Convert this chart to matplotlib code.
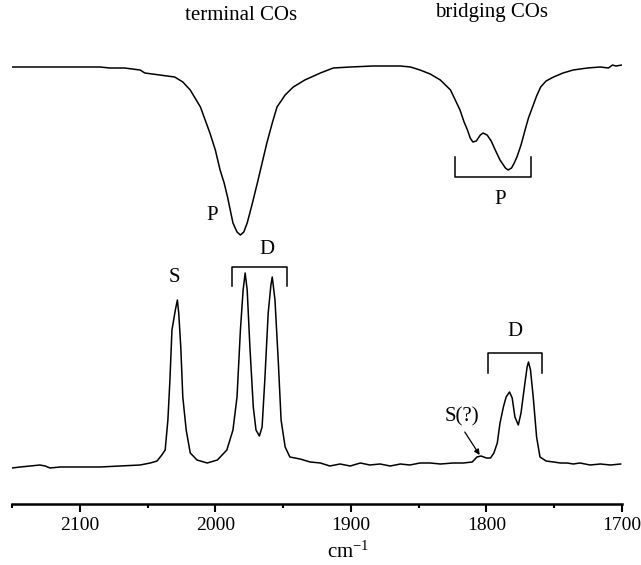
import matplotlib
matplotlib.use('Agg')
import matplotlib.pyplot as plt

plt.rcParams['font.family'] = ['Liberation Serif', 'DejaVu Serif']
plt.rcParams['mathtext.default'] = 'regular'

# upper trace: IR transmittance (%)
IR_WAVENUMBER = [2150, 2129, 2107, 2085, 2078, 2067, 2055.5, 2052, 2041, 2030,
                 2024, 2018.5, 2011, 2004, 2000, 1996.5, 1993.5, 1991, 1987, 1984,
                 1981.5, 1979, 1976.5, 1973, 1969, 1965.5, 1962, 1958, 1954.5, 1948.5,
                 1942.5, 1934, 1922.5, 1913, 1900.5, 1883.5, 1863.5, 1856, 1849, 1841.5,
                 1834, 1826.5, 1823, 1819.5, 1816.5, 1814, 1812, 1810, 1807.5, 1804.5,
                 1802.5, 1799.5, 1796.5, 1793.5, 1790, 1786, 1784, 1781.5, 1779.5, 1777.5,
                 1774.5, 1771.5, 1769, 1766, 1763, 1760, 1756, 1750.5, 1743.5, 1736,
                 1725.5, 1716, 1710, 1707, 1704.5, 1700]
IR_TRANSMITTANCE = [99.0, 99.0, 99.0, 99.0, 98.5, 98.5, 97.5, 96.0, 95.0, 94.0,
                    91.5, 87.5, 79.0, 66.0, 57.5, 47.5, 41.0, 34.0, 21.0, 16.5,
                    15.0, 16.5, 21.0, 30.0, 41.0, 51.0, 61.0, 71.0, 79.0, 85.0,
                    89.0, 92.5, 96.0, 98.5, 99.0, 99.5, 99.5, 99.0, 97.5, 95.5,
                    92.5, 87.5, 82.5, 77.5, 71.5, 67.5, 63.5, 61.5, 62.0, 65.0,
                    66.0, 65.0, 62.0, 57.5, 52.5, 48.5, 47.5, 48.5, 51.0, 54.0,
                    60.0, 67.5, 73.5, 79.0, 84.5, 89.0, 92.0, 94.0, 96.0, 97.5,
                    98.5, 99.0, 98.5, 100.0, 99.5, 100.0]

# lower trace: Raman intensity (counts)
RAMAN_WAVENUMBER = [2150, 2144, 2136.5, 2129.5, 2125.5, 2122, 2114.5, 2100, 2085, 2070.5,
                    2055.5, 2048, 2043, 2039.5, 2037, 2035, 2033.5, 2032, 2029.5, 2028,
                    2027, 2025.5, 2024, 2021.5, 2018.5, 2013.5, 2006, 1998.5, 1991.5, 1987,
                    1984, 1981.5, 1979.5, 1978, 1976.5, 1974.5, 1972, 1970, 1967.5, 1965.5,
                    1963.5, 1961, 1959, 1958, 1956, 1953.5, 1951.5, 1948.5, 1945, 1937.5,
                    1930, 1922.5, 1915.5, 1908, 1900.5, 1893, 1886, 1878.5, 1871, 1863.5,
                    1856.5, 1849, 1841.5, 1834, 1824.5, 1817, 1810.5, 1807, 1804, 1800,
                    1797, 1794.5, 1792, 1790, 1787.5, 1785.5, 1783, 1781, 1779, 1776.5,
                    1774.5, 1772, 1770, 1769, 1767.5, 1765.5, 1763, 1760.5, 1756, 1750.5,
                    1745.5, 1740.5, 1736, 1731, 1723.5, 1716, 1708.5, 1701]
RAMAN_INTENSITY = [20, 30, 40, 50, 40, 20, 30, 30, 30, 40,
                   50, 70, 90, 150, 200, 500, 900, 1400, 1600, 1700,
                   1570, 1230, 730, 400, 170, 100, 70, 100, 200, 400,
                   730, 1400, 1800, 1970, 1800, 1230, 630, 400, 340, 430,
                   900, 1570, 1850, 1930, 1700, 1070, 500, 230, 130, 110,
                   80, 70, 40, 60, 40, 70, 50, 60, 40, 60,
                   50, 70, 70, 60, 70, 70, 80, 130, 140, 120,
                   120, 170, 270, 470, 630, 730, 780, 720, 530, 450,
                   570, 830, 1030, 1080, 1000, 730, 330, 130, 90, 80,
                   70, 70, 60, 70, 50, 60, 50, 60]

X_TICKS = [2100, 2000, 1900, 1800, 1700]
X_MINOR = [2150, 2050, 1950, 1850, 1750]

# vertical placement of the two stacked traces (axis units)
IR_OFFSET = 239
IR_SCALE = 2.0
RAMAN_OFFSET = 34
RAMAN_SCALE = 0.1


def bracket(ax, x0, x1, y, tip):
    # square bracket: horizontal bar at y, legs reaching to tip
    ax.plot([x0, x0, x1, x1], [tip, y, y, tip], color='black', lw=1.1)


def main():
    fig = plt.figure(figsize=(6.41, 5.65), dpi=100)
    ax = fig.add_axes([12 / 641, 61 / 565, 610 / 641, 504 / 565])

    ir_y = [IR_OFFSET + IR_SCALE * t for t in IR_TRANSMITTANCE]
    raman_y = [RAMAN_OFFSET + RAMAN_SCALE * i for i in RAMAN_INTENSITY]
    ax.plot(IR_WAVENUMBER, ir_y, color='black', lw=1.1)
    ax.plot(RAMAN_WAVENUMBER, raman_y, color='black', lw=1.1)

    ax.set_xlim(2150, 1700)
    ax.set_ylim(0, 504)

    for side in ['top', 'left', 'right']:
        ax.spines[side].set_visible(False)
    ax.spines['bottom'].set_linewidth(1.8)
    ax.set_yticks([])
    ax.set_xticks(X_TICKS)
    ax.set_xticks(X_MINOR, minor=True)
    ax.tick_params(axis='x', which='major', direction='out', length=5.5, width=1.5,
                   labelsize=14, pad=4)
    ax.tick_params(axis='x', which='minor', direction='out', length=3, width=1.5)

    txt = dict(ha='center', va='center', fontsize=15)
    ax.text(1981, 489, 'terminal COs', **txt)
    ax.text(1796, 491, 'bridging COs', **txt)
    ax.text(2002, 289, 'P', **txt)
    ax.text(1790, 304, 'P', **txt)
    ax.text(2030, 227, 'S', **txt)
    ax.text(1962, 254, 'D', **txt)
    ax.text(1779, 172, 'D', **txt)
    ax.text(1818, 87, 'S(?)', **txt)
    ax.text(1902, -48, r'cm$^{-1}$', ha='center', va='center', fontsize=15, clip_on=False)

    bracket(ax, 1823, 1767, 327, 347)
    bracket(ax, 1988, 1947, 237, 218)
    bracket(ax, 1799, 1759, 151, 131)

    ax.annotate('', xy=(1805, 49), xytext=(1816, 72),
                arrowprops=dict(arrowstyle='-|>', color='black', lw=0.9,
                                mutation_scale=8, shrinkA=0, shrinkB=0))

    fig.savefig('out.png', dpi=100)


if __name__ == '__main__':
    main()
